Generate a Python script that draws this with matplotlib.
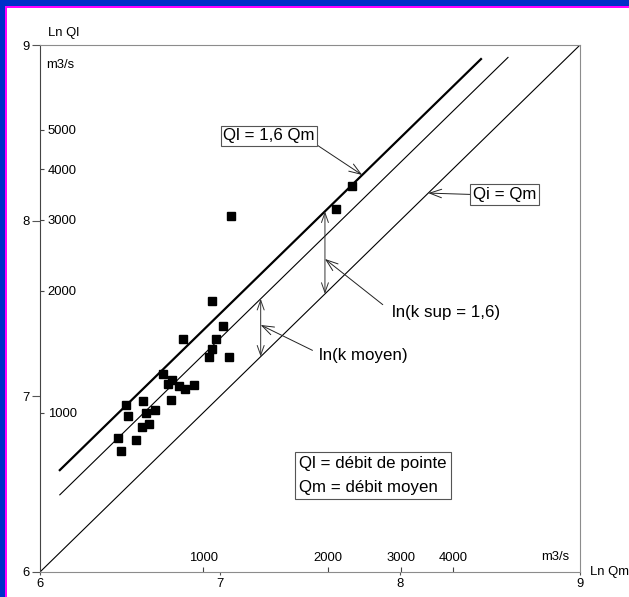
import numpy as np
import matplotlib
matplotlib.use('Agg')
import matplotlib.pyplot as plt
from matplotlib.patches import Rectangle

plt.rcParams['font.family'] = ['Liberation Sans', 'DejaVu Sans']

# crues observees : ln du debit moyen (Qm) et ln du debit de pointe (Ql)
ln_qm = [7.735, 7.643, 7.059, 6.957, 7.017, 6.794, 6.979, 6.956, 6.937,
	7.048, 6.685, 6.733, 6.709, 6.772, 6.806, 6.857, 6.728, 6.476,
	6.574, 6.491, 6.591, 6.639, 6.567, 6.607, 6.435, 6.532, 6.448]
ln_ql = [8.197, 8.066, 8.027, 7.543, 7.399, 7.328, 7.328, 7.271, 7.222,
	7.222, 7.129, 7.091, 7.068, 7.061, 7.040, 7.066, 6.981, 6.949,
	6.972, 6.886, 6.907, 6.920, 6.827, 6.842, 6.761, 6.753, 6.687]

k_sup = 1.6
k_moyen = 1.39
droite_sup = [6.11, 8.45]      # etendue en ln Qm
droite_moyen = [6.11, 8.60]
graduations = [6, 7, 8, 9]
debits_y = [1000, 2000, 3000, 4000, 5000]
debits_x = [1000, 2000, 3000, 4000]

FS_AX = 9.4
FS_TXT = 12.2

def main():
	fig = plt.figure(figsize=(6.29, 5.97), dpi=100)
	# cadre bleu / magenta de la capture
	fig.patches.append(Rectangle((0, 1 - 6/597), 1, 6/597, transform=fig.transFigure, fc='#0030c8', ec='none'))
	fig.patches.append(Rectangle((0, 0), 5/629, 1, transform=fig.transFigure, fc='#0030c8', ec='none'))
	fig.patches.append(Rectangle((5/629, 1 - 8/597), 1 - 5/629, 2/597, transform=fig.transFigure, fc='#ff00ff', ec='none'))
	fig.patches.append(Rectangle((5/629, 0), 2/629, 1 - 6/597, transform=fig.transFigure, fc='#ff00ff', ec='none'))

	ax = fig.add_axes([40/629, 25/597, 540/629, 527/597])
	plot_chart(ax)
	fig.savefig('out.png', dpi=100)

def plot_chart(ax):
	g0, g1 = graduations[0], graduations[-1]
	ax.set_xlim(g0, g1)
	ax.set_ylim(g0, g1)

	# droites
	x_id = np.array([g0, g1], dtype=float)
	ax.plot(x_id, x_id, color='black', lw=0.8)
	x_s = np.array(droite_sup)
	ax.plot(x_s, x_s + np.log(k_sup), color='black', lw=1.6)
	x_m = np.array(droite_moyen)
	ax.plot(x_m, x_m + np.log(k_moyen), color='black', lw=0.8)

	ax.plot(ln_qm, ln_ql, 's', color='black', ms=5.2, mec='black')

	# axes et graduations
	for side in ['top', 'right', 'bottom']:
		ax.spines[side].set_color('#8c8c8c')
		ax.spines[side].set_linewidth(0.8)
	ax.spines['left'].set_color('#444444')
	ax.spines['left'].set_linewidth(0.8)

	ax.set_xticks(graduations)
	ax.set_yticks(graduations)
	ax.set_xticklabels([str(g) for g in graduations])
	ax.set_yticklabels([str(g) for g in graduations])
	ax.tick_params(axis='y', which='major', direction='out', length=5.8, pad=1.4,
		width=0.8, color='#555555', labelsize=FS_AX)
	ax.tick_params(axis='x', which='major', direction='out', length=2.5, pad=2,
		width=0.8, color='#555555', labelsize=FS_AX)

	ax.set_yticks(np.log(debits_y), minor=True)
	ax.set_yticklabels([str(d) for d in debits_y], minor=True)
	ax.set_xticks(np.log(debits_x), minor=True)
	ax.set_xticklabels([str(d) for d in debits_x], minor=True)
	ax.tick_params(axis='y', which='minor', direction='in', length=3, pad=-5.5,
		width=0.8, color='#444444', labelsize=FS_AX)
	ax.tick_params(axis='x', which='minor', direction='in', length=3.5, pad=-5.5,
		width=0.8, color='#444444', labelsize=FS_AX)
	for t in ax.get_yticklabels(minor=True):
		t.set_ha('left')
	for t in ax.get_xticklabels(minor=True):
		t.set_va('bottom')

	ax.text(0.015, 1.0228, 'Ln Ql', transform=ax.transAxes, fontsize=FS_AX, ha='left', va='center', clip_on=False)
	ax.text(0.011, 0.962, 'm3/s', transform=ax.transAxes, fontsize=FS_AX, ha='left', va='center')
	ax.text(0.98, 0.0285, 'm3/s', transform=ax.transAxes, fontsize=FS_AX, ha='right', va='center')
	ax.text(1.0185, 0.0, 'Ln Qm', transform=ax.transAxes, fontsize=FS_AX, ha='left', va='center', clip_on=False)

	# annotations
	boite = dict(boxstyle='square,pad=0.15', fc='white', ec='#555555', lw=0.8)
	fl = dict(arrowstyle='->,head_length=0.7,head_width=0.25', color='#222222', lw=0.7, shrinkA=0, shrinkB=0)

	xa = 7.79
	ax.annotate('Ql = 1,6 Qm', xy=(xa, xa + np.log(k_sup)), xytext=(7.272, 8.482),
		fontsize=FS_TXT, ha='center', va='center', bbox=boite,
		arrowprops=dict(fl, relpos=(1, 0)))
	xb = 8.157
	ax.annotate('Qi = Qm', xy=(xb, xb), xytext=(8.581, 8.149),
		fontsize=FS_TXT, ha='center', va='center', bbox=boite,
		arrowprops=dict(fl, relpos=(0, 0.5)))

	fl2 = dict(arrowstyle='<->,head_length=0.7,head_width=0.25', color='#333333', lw=0.7, shrinkA=0, shrinkB=0)
	xc = 7.583
	ax.annotate('', xy=(xc, xc), xytext=(xc, xc + np.log(k_sup)), arrowprops=fl2)
	xd = 7.226
	ax.annotate('', xy=(xd, xd), xytext=(xd, xd + np.log(k_moyen)), arrowprops=fl2)

	ax.annotate('ln(k sup = 1,6)', xy=(xc, 7.782), xytext=(7.956, 7.48),
		fontsize=FS_TXT, ha='left', va='center',
		arrowprops=dict(fl, relpos=(0, 0.5), shrinkA=6))
	ax.annotate('ln(k moyen)', xy=(xd, 7.406), xytext=(7.55, 7.235),
		fontsize=FS_TXT, ha='left', va='center',
		arrowprops=dict(fl, relpos=(0, 0.6), shrinkA=3))

	ax.text(7.439, 6.549, 'Ql = débit de pointe\nQm = débit moyen', fontsize=FS_TXT,
		ha='left', va='center', linespacing=1.7,
		bbox=dict(boxstyle='square,pad=0.25', fc='white', ec='#555555', lw=0.8))

if __name__ == '__main__':
	main()
